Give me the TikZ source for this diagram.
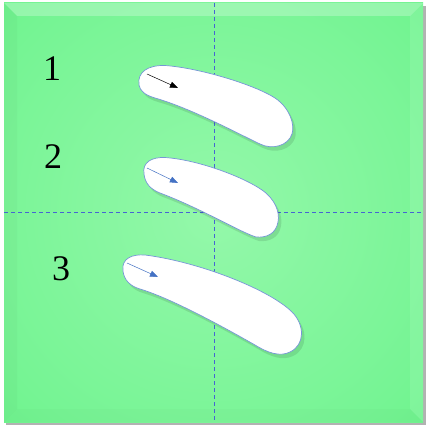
\documentclass[tikz,border=0pt]{standalone}
\usepackage{fontspec}
\setmainfont{Liberation Serif}
\usetikzlibrary{arrows.meta}
\definecolor{greenedge}{RGB}{88,240,122}
\definecolor{greenring}{RGB}{118,244,148}
\definecolor{greenmid}{RGB}{148,248,170}
\definecolor{bladeline}{RGB}{118,150,214}
\definecolor{cutblue}{RGB}{70,100,210}
\definecolor{flowblue}{RGB}{68,114,196}
\pgfdeclareradialshading{panelglow}{\pgfpoint{0bp}{0bp}}{color(0bp)=(greenmid); color(30bp)=(greenring); color(55bp)=(greenedge); color(75bp)=(greenedge)}

\begin{document}
\begin{tikzpicture}[x=1pt,y=-1pt]
	\tikzset{blade/.style={fill=white, draw=bladeline, line width=0.7pt},
		bladeshadow/.style={fill=black, opacity=0.10},
		flowarrow/.style={-{Triangle[length=8pt, width=6pt]}, line width=0.5pt},
		axisline/.style={cutblue, dashed, dash pattern=on 4pt off 3pt, line width=0.6pt},
		digit/.style={font=\fontsize{36}{40}\selectfont, inner sep=0pt}}
	\useasboundingbox (0,0) rectangle (426,425);
	% panel with shadow and bevel
	\fill[black!30] (6,6) rectangle (426,425);
	\shade[shading=panelglow] (4,3) rectangle (423,422);
	\fill[white, opacity=0.25] (4,3) -- (423,3) -- (410,16) -- (17,16) -- cycle;
	\fill[black, opacity=0.025] (4,3) -- (17,16) -- (17,409) -- (4,422) -- cycle;
	\fill[white, opacity=0.10] (423,3) -- (423,422) -- (410,409) -- (410,16) -- cycle;
	\fill[black, opacity=0.015] (4,422) -- (17,409) -- (410,409) -- (423,422) -- cycle;
	% cut lines
	\draw[axisline] (214,3) -- (214,422);
	\draw[axisline] (4,212) -- (423,212);
	% labels
	\node[digit] (n1) at (52,69) {1};
	\node[digit] (n2) at (53,157) {2};
	\node[digit] (n3) at (61,269) {3};
	% blade 1
	\def\bladeone{(139,85) .. controls (137,72) and (148,65) .. (165,65.5)
		.. controls (200,68) and (255,85) .. (275,98)
		.. controls (290,108) and (295,125) .. (292,134)
		.. controls (288,146) and (272,150) .. (260,144)
		.. controls (235,132) and (190,108) .. (155,98)
		.. controls (145,95) and (140,91) .. (139,85) -- cycle}
	\fill[bladeshadow, shift={(3,4)}] \bladeone;
	\draw[blade] \bladeone;
	\coordinate (a1s) at (147,74);
	\coordinate (a1e) at (178,88);
	\draw[flowarrow, black] (a1s) -- (a1e);
	% blade 2
	\def\bladetwo{(144,174) .. controls (142,162) and (152,157) .. (165,157.5)
		.. controls (200,160) and (245,178) .. (262,190)
		.. controls (275,199) and (280,212) .. (278,222)
		.. controls (276,234) and (266,238) .. (256,237)
		.. controls (240,232) and (200,208) .. (160,193)
		.. controls (150,189) and (145,183) .. (144,174) -- cycle}
	\fill[bladeshadow, shift={(3,4)}] \bladetwo;
	\draw[blade] \bladetwo;
	\coordinate (a2s) at (147,168);
	\coordinate (a2e) at (178,183);
	\draw[flowarrow, flowblue] (a2s) -- (a2e);
	% blade 3
	\def\bladethree{(123,271) .. controls (121,258) and (133,254) .. (145,255)
		.. controls (200,262) and (270,290) .. (292,312)
		.. controls (305,325) and (305,345) .. (290,352)
		.. controls (280,357) and (268,353) .. (255,345)
		.. controls (220,325) and (170,298) .. (140,289)
		.. controls (130,286) and (124,280) .. (123,271) -- cycle}
	\fill[bladeshadow, shift={(3,4)}] \bladethree;
	\draw[blade] \bladethree;
	\coordinate (a3s) at (127,263);
	\coordinate (a3e) at (158,277);
	\draw[flowarrow, flowblue] (a3s) -- (a3e);
\end{tikzpicture}
\end{document}
